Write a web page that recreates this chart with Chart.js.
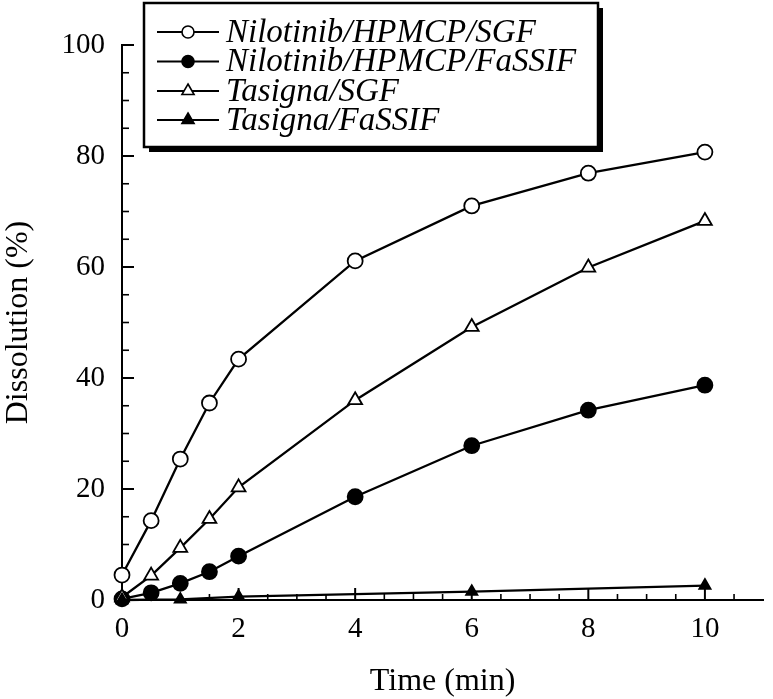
<!DOCTYPE html>
<html>
<head>
<meta charset="utf-8">
<script src="https://cdn.jsdelivr.net/npm/chart.js@4/dist/chart.umd.min.js"></script>
<style>
  html, body { margin: 0; padding: 0; background: #fff; }
  #wrap { width: 773px; height: 699px; }
</style>
</head>
<body>
<div id="wrap"><canvas id="c" width="773" height="699"></canvas></div>
<script>
// ---- data ----
const timePoints = [0, 0.5, 1, 1.5, 2, 4, 6, 8, 10];
const nilotinibSGF = [4.5, 14.3, 25.4, 35.5, 43.4, 61.1, 71.0, 76.9, 80.7];
const nilotinibFaSSIF = [0.2, 1.3, 3.0, 5.1, 7.9, 18.6, 27.8, 34.2, 38.7];
const tasignaSGF = [0.5, 4.4, 9.4, 14.6, 20.3, 36.0, 49.2, 59.9, 68.3];
const tasignaTimePoints = [0, 1, 2, 6, 10];
const tasignaFaSSIF = [0.0, 0.1, 0.6, 1.5, 2.6];

const seriesNames = ['Nilotinib/HPMCP/SGF', 'Nilotinib/HPMCP/FaSSIF', 'Tasigna/SGF', 'Tasigna/FaSSIF'];

const xTickLabels = [0, 2, 4, 6, 8, 10];
const xMinorTicks = [0.5, 1, 1.5, 2.5, 3, 3.5, 4.5, 5, 5.5, 6.5, 7, 7.5, 8.5, 9, 9.5, 10.5];
const yTickLabels = [0, 20, 40, 60, 80, 100];
const yMinorTicks = [5, 10, 15, 25, 30, 35, 45, 50, 55, 65, 70, 75, 85, 90, 95];

const xTitle = 'Time (min)';
const yTitle = 'Dissolution (%)';

// ---- helpers ----
const SERIF = "'Liberation Serif', 'Times New Roman', Times, serif";
function toXY(xs, ys) { return xs.map((x, i) => ({ x: x, y: ys[i] })); }

const styles = [
  { pointStyle: 'circle', fill: '#ffffff', radius: 7.5, legendRadius: 6 },
  { pointStyle: 'circle', fill: '#000000', radius: 7.5, legendRadius: 6 },
  { pointStyle: 'triangle', fill: '#ffffff', radius: 8, legendRadius: 7 },
  { pointStyle: 'triangle', fill: '#000000', radius: 6.5, legendRadius: 7 }
];

const seriesData = [
  toXY(timePoints, nilotinibSGF),
  toXY(timePoints, nilotinibFaSSIF),
  toXY(timePoints, tasignaSGF),
  toXY(tasignaTimePoints, tasignaFaSSIF)
];

const datasets = seriesData.map((d, i) => ({
  label: seriesNames[i],
  data: d,
  borderColor: '#000',
  borderWidth: 2.3,
  backgroundColor: styles[i].fill,
  pointStyle: styles[i].pointStyle,
  pointRadius: styles[i].radius,
  pointHoverRadius: styles[i].radius,
  pointBackgroundColor: styles[i].fill,
  pointBorderColor: '#000',
  pointBorderWidth: 1.8,
  tension: 0,
  fill: false,
  clip: false,
  order: 4 - i
}));

function drawMarker(ctx, style, fill, r, x, y) {
  ctx.beginPath();
  if (style === 'circle') {
    ctx.arc(x, y, r, 0, Math.PI * 2);
  } else {
    ctx.moveTo(x, y - r);
    ctx.lineTo(x + r * Math.sqrt(3) / 2, y + r / 2);
    ctx.lineTo(x - r * Math.sqrt(3) / 2, y + r / 2);
    ctx.closePath();
  }
  ctx.fillStyle = fill;
  ctx.fill();
  ctx.lineWidth = 1.6;
  ctx.strokeStyle = '#000';
  ctx.stroke();
}

const inwardTicks = {
  id: 'inwardTicks',
  beforeDatasetsDraw(chart) {
    const ctx = chart.ctx;
    const xs = chart.scales.x, ys = chart.scales.y;
    ctx.save();
    ctx.strokeStyle = '#000';
    ctx.lineWidth = 2;
    const y0 = ys.bottom, x0 = xs.left;
    xTickLabels.forEach(v => {
      const px = xs.getPixelForValue(v);
      ctx.beginPath(); ctx.moveTo(px, y0); ctx.lineTo(px, y0 - 12); ctx.stroke();
    });
    ctx.lineWidth = 1.6;
    xMinorTicks.forEach(v => {
      const px = xs.getPixelForValue(v);
      ctx.beginPath(); ctx.moveTo(px, y0); ctx.lineTo(px, y0 - 6); ctx.stroke();
    });
    ctx.lineWidth = 2;
    yTickLabels.forEach(v => {
      const py = ys.getPixelForValue(v);
      ctx.beginPath(); ctx.moveTo(x0, py); ctx.lineTo(x0 + 12, py); ctx.stroke();
    });
    ctx.lineWidth = 1.6;
    yMinorTicks.forEach(v => {
      const py = ys.getPixelForValue(v);
      ctx.beginPath(); ctx.moveTo(x0, py); ctx.lineTo(x0 + 7, py); ctx.stroke();
    });
    ctx.restore();
  }
};

const boxLegend = {
  id: 'boxLegend',
  afterDraw(chart) {
    const ctx = chart.ctx;
    const bx = 144, by = 3, bw = 454, bh = 144, sh = 5;
    ctx.save();
    ctx.fillStyle = '#000';
    ctx.fillRect(bx + sh, by + sh, bw, bh);
    ctx.fillStyle = '#fff';
    ctx.fillRect(bx, by, bw, bh);
    ctx.lineWidth = 2.5;
    ctx.strokeStyle = '#000';
    ctx.strokeRect(bx, by, bw, bh);
    const rowY = [32, 61.5, 91, 120];
    ctx.font = "italic 33px " + SERIF;
    ctx.textBaseline = 'middle';
    ctx.textAlign = 'left';
    chart.data.datasets.forEach((ds, i) => {
      const y = rowY[i];
      ctx.beginPath();
      ctx.moveTo(157, y); ctx.lineTo(219, y);
      ctx.lineWidth = 2.2; ctx.strokeStyle = '#000'; ctx.stroke();
      drawMarker(ctx, styles[i].pointStyle, styles[i].fill, styles[i].legendRadius, 188, y);
      ctx.fillStyle = '#000';
      ctx.fillText(ds.label, 226, y + 1);
    });
    ctx.restore();
  }
};

new Chart(document.getElementById('c'), {
  type: 'line',
  data: { datasets: datasets },
  options: {
    responsive: false,
    animation: false,
    events: [],
    layout: { padding: { top: 45, right: 2, left: 0, bottom: 0 } },
    plugins: { legend: { display: false }, tooltip: { enabled: false } },
    scales: {
      x: {
        type: 'linear',
        min: 0,
        max: 11,
        afterBuildTicks: s => { s.ticks = xTickLabels.map(v => ({ value: v })); },
        afterFit: s => { s.height = 99; },
        grid: { display: false, drawTicks: false },
        border: { display: true, color: '#000', width: 2 },
        ticks: {
          color: '#000',
          padding: 12,
          maxRotation: 0,
          font: { family: SERIF, size: 29 }
        },
        title: {
          display: true,
          text: xTitle,
          color: '#000',
          font: { family: SERIF, size: 32, lineHeight: 1 },
          padding: { top: 0, bottom: 1 }
        }
      },
      y: {
        type: 'linear',
        min: 0,
        max: 100,
        afterBuildTicks: s => { s.ticks = yTickLabels.map(v => ({ value: v })); },
        afterFit: s => { s.width = 122; },
        grid: { display: false, drawTicks: false },
        border: { display: true, color: '#000', width: 2 },
        ticks: {
          color: '#000',
          padding: 17,
          font: { family: SERIF, size: 29 }
        },
        title: {
          display: true,
          text: yTitle,
          color: '#000',
          font: { family: SERIF, size: 32, lineHeight: 1 },
          padding: { top: 3, bottom: 0 }
        }
      }
    }
  },
  plugins: [inwardTicks, boxLegend]
});
</script>
</body>
</html>
